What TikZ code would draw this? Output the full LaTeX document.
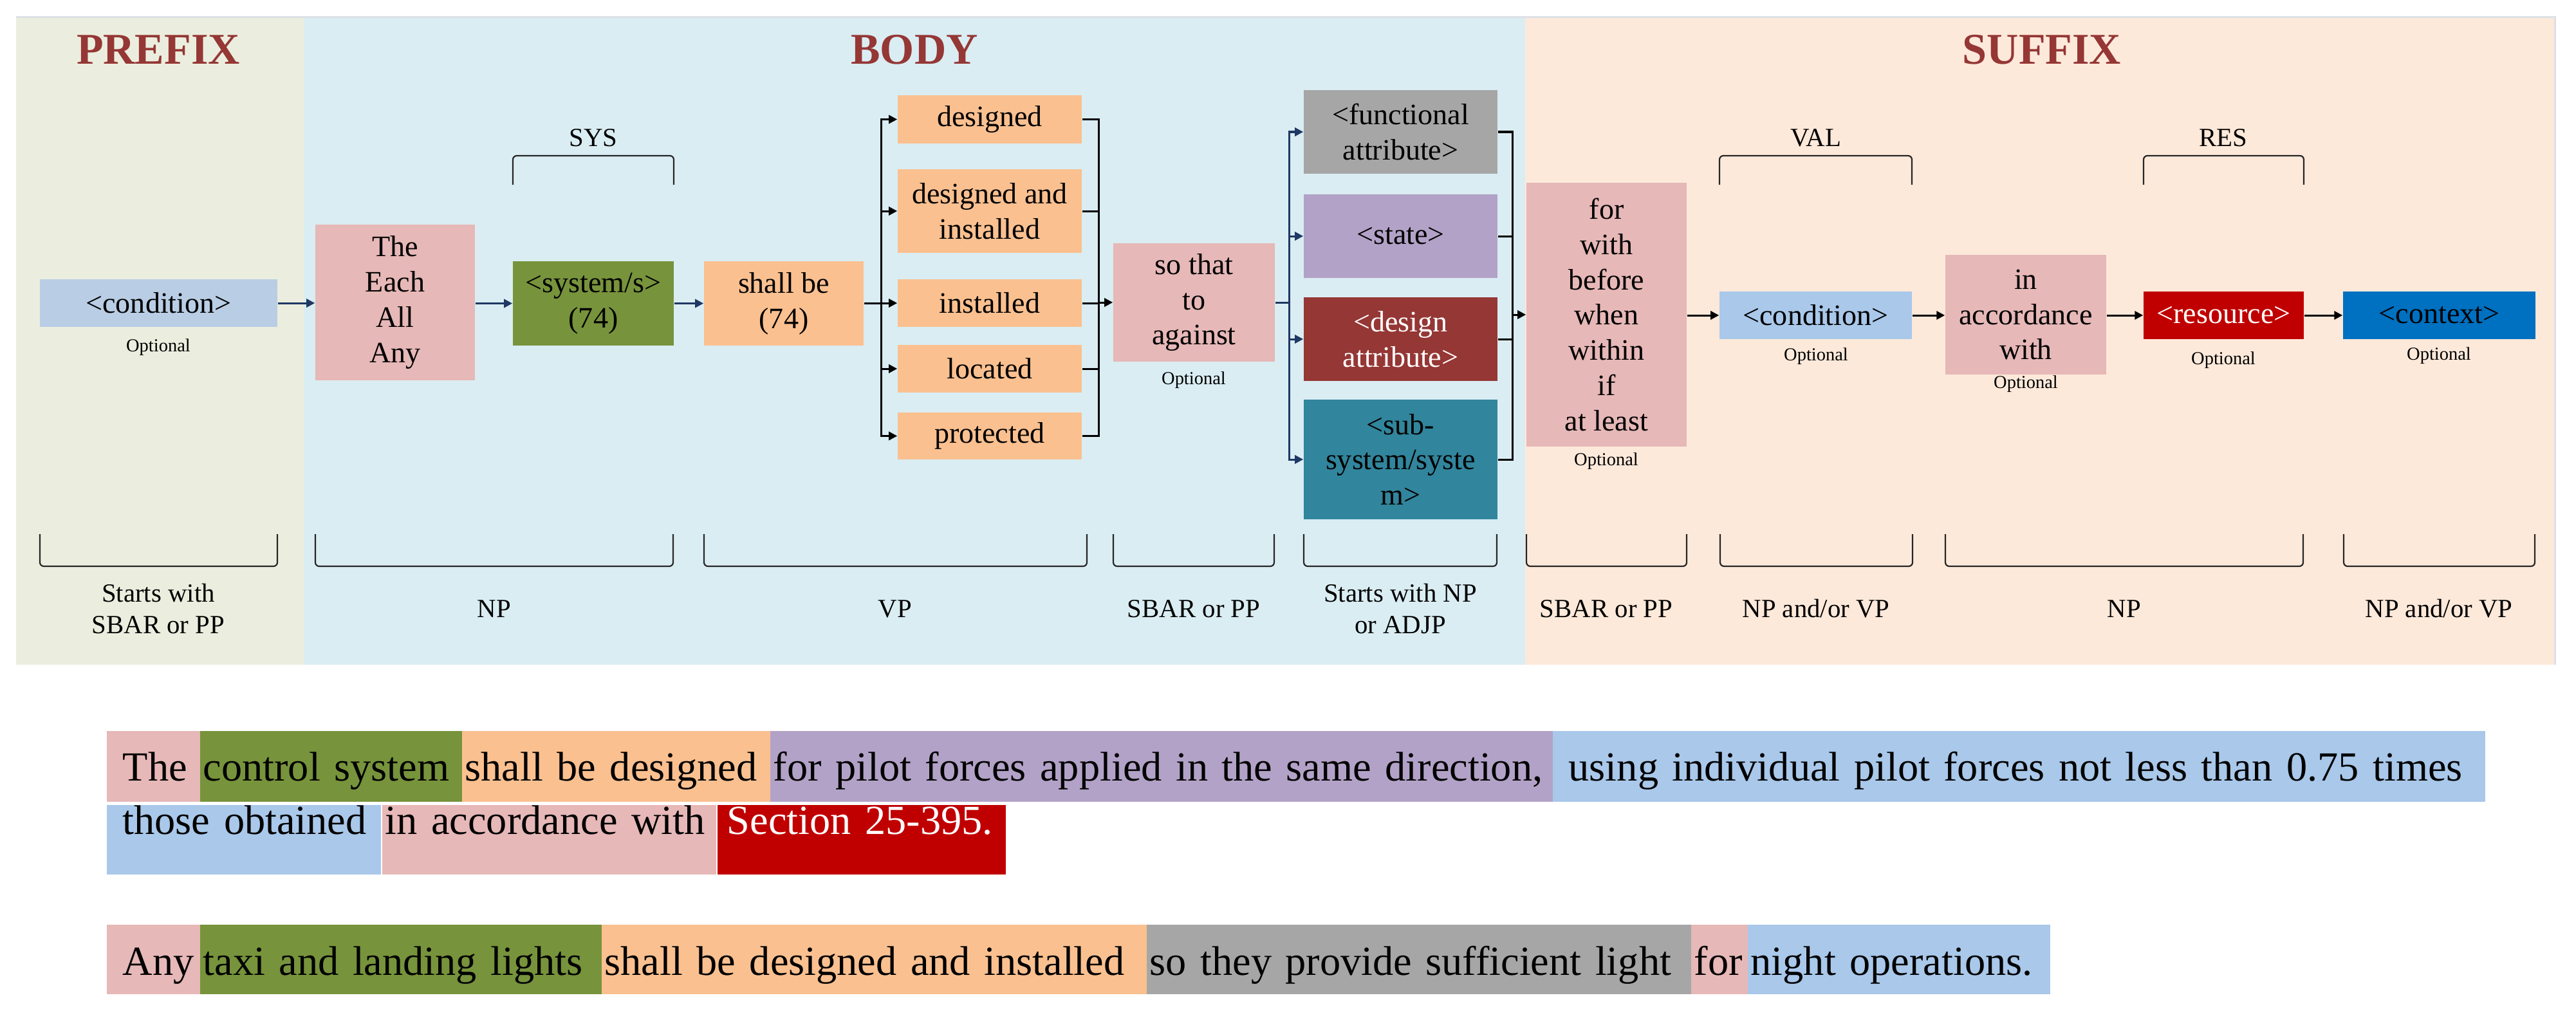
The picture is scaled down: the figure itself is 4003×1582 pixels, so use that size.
\documentclass[tikz,border=0pt]{standalone}
\usepackage{fontspec}
\setmainfont{Liberation Serif}
\usetikzlibrary{arrows.meta}
\definecolor{cpre}{HTML}{EBEEDE}
\definecolor{cbody}{HTML}{DAEDF3}
\definecolor{csuf}{HTML}{FDE9DA}
\definecolor{titlec}{HTML}{953735}
\definecolor{cpink}{HTML}{E6B8B7}
\definecolor{cgreen}{HTML}{77933C}
\definecolor{corange}{HTML}{FAC090}
\definecolor{cgray}{HTML}{A6A6A6}
\definecolor{cpurple}{HTML}{B3A2C7}
\definecolor{cdred}{HTML}{953735}
\definecolor{cteal}{HTML}{31859C}
\definecolor{clblue}{HTML}{B9CDE5}
\definecolor{cblue}{HTML}{A9C8EA}
\definecolor{cred}{HTML}{C00000}
\definecolor{cctx}{HTML}{0070C0}
\definecolor{cnavy}{HTML}{1F3864}
\definecolor{cborder}{HTML}{DDE1E6}
\begin{document}
\begin{tikzpicture}[x=0.01cm, y=-0.01cm,
  box/.style={inner sep=0pt, align=center, font=\fontsize{13.1}{15.6}\selectfont},
  opt/.style={inner sep=0pt, font=\fontsize{8.1}{9.5}\selectfont},
  lbl/.style={inner sep=0pt, align=center, font=\fontsize{11.6}{13.7}\selectfont},
  ttl/.style={inner sep=0pt, text=titlec, font=\fontsize{19.4}{22}\selectfont\bfseries},
  ln/.style={line width=0.03cm, draw=#1},
  ln/.default=black,
  arr/.style={-{Triangle[length=0.13cm,width=0.13cm]}},
  brk/.style={line width=0.022cm, rounded corners=0.06cm, draw=black!85},
  seg/.style={anchor=north west, inner xsep=0.05cm, inner ysep=0pt, align=left,
              font=\fontsize{18.3}{22}\selectfont},
  rowa/.style={seg, text height=0.78cm, text depth=0.32cm},
  rowb/.style={seg, text height=0.46cm, text depth=0.62cm},
  rowc/.style={seg, text height=0.79cm, text depth=0.29cm}]

\useasboundingbox (0,0) rectangle (4003,1582);
\fill[white] (0,0) rectangle (4003,1582);

% panels
\fill[cpre] (25,27) rectangle (472,1033);
\fill[cbody] (472,27) rectangle (2370,1033);
\fill[csuf] (2370,27) rectangle (3970,1033);
\draw[cborder, line width=0.03cm] (25,27) -- (3970,27) -- (3970,1033);

% titles
\node[ttl] (tpre) at (246,77) {PREFIX};
\node[ttl] (tbody) at (1421,77) {BODY};
\node[ttl] (tsuf) at (3173,77) {SUFFIX};

% boxes
\node[box, fill=clblue, minimum width=3.69cm, minimum height=0.74cm] (cond1) at (246.5,471) {<condition>};
\node[box, fill=cpink, minimum width=2.48cm, minimum height=2.42cm] (the) at (614,470) {The\\Each\\All\\Any};
\node[box, fill=cgreen, minimum width=2.50cm, minimum height=1.31cm] (sys) at (922,471.5) {<system/s>\\(74)};
\node[box, fill=corange, minimum width=2.48cm, minimum height=1.31cm] (shall) at (1218,471.5) {shall be\\(74)};
\node[box, fill=corange, minimum width=2.86cm, minimum height=0.75cm] (designed) at (1538,185.5) {designed};
\node[box, fill=corange, minimum width=2.86cm, minimum height=1.30cm] (desinst) at (1538,328) {designed and\\installed};
\node[box, fill=corange, minimum width=2.86cm, minimum height=0.74cm] (installed) at (1538,471) {installed};
\node[box, fill=corange, minimum width=2.86cm, minimum height=0.74cm] (located) at (1538,573) {located};
\node[box, fill=corange, minimum width=2.86cm, minimum height=0.73cm] (protected) at (1538,677.5) {protected};
\node[box, fill=cpink, minimum width=2.51cm, minimum height=1.84cm] (sothat) at (1855.5,470) {so that\\to\\against};
\node[box, fill=cgray, minimum width=3.01cm, minimum height=1.30cm] (func) at (2176.5,205) {<functional\\attribute>};
\node[box, fill=cpurple, minimum width=3.01cm, minimum height=1.30cm] (state) at (2176.5,367) {<state>};
\node[box, fill=cdred, text=white, minimum width=3.01cm, minimum height=1.30cm] (design) at (2176.5,527) {<design\\attribute>};
\node[box, fill=cteal, minimum width=3.01cm, minimum height=1.86cm] (subsys) at (2176.5,714) {<sub-\\system/syste\\m>};
\node[box, fill=cpink, minimum width=2.49cm, minimum height=4.10cm] (forb) at (2496.5,489) {for\\with\\before\\when\\within\\if\\at least};
\node[box, fill=cblue, minimum width=2.99cm, minimum height=0.74cm] (cond2) at (2821.5,490) {<condition>};
\node[box, fill=cpink, minimum width=2.50cm, minimum height=1.86cm] (inacc) at (3148,489) {in\\accordance\\with};
\node[box, fill=cred, text=white, minimum width=2.49cm, minimum height=0.74cm] (res) at (3455.5,490) {<resource>};
\node[box, fill=cctx, minimum width=2.99cm, minimum height=0.74cm] (ctx) at (3790.5,490) {<context>};

% optional labels
\node[opt] (o1) at (246,540) {Optional};
\node[opt] (o2) at (1855,591) {Optional};
\node[opt] (o3) at (2496,717) {Optional};
\node[opt] (o4) at (2822,554) {Optional};
\node[opt] (o5) at (3148,597) {Optional};
\node[opt] (o6) at (3455,560) {Optional};
\node[opt] (o7) at (3790,553) {Optional};

% connectors
\draw[ln=cnavy, arr] (cond1.east) -- (cond1.east -| the.west);
\draw[ln=cnavy, arr] (the.east |- sys.west) -- (sys.west);
\draw[ln=cnavy, arr] (sys.east) -- (shall.west);

\coordinate (bx1) at (1369,0);
\coordinate (bx2) at (1707,0);
\coordinate (bx3) at (2003,0);
\coordinate (bx4) at (2350,0);

\draw[ln] (shall.east) -- (shall.east -| bx1);
\draw[ln, line cap=rect] (designed.west -| bx1) -- (protected.west -| bx1);
\foreach \n in {designed,desinst,installed,located,protected}
  \draw[ln, arr] (\n.west -| bx1) -- (\n.west);
\foreach \n in {designed,desinst,installed,located,protected}
  \draw[ln] (\n.east) -- (\n.east -| bx2);
\draw[ln, line cap=rect] (designed.east -| bx2) -- (protected.east -| bx2);
\draw[ln, arr] (sothat.west -| bx2) -- (sothat.west);

\draw[ln=cnavy] (sothat.east) -- (sothat.east -| bx3);
\draw[ln=cnavy, line cap=rect] (func.west -| bx3) -- (subsys.west -| bx3);
\foreach \n in {func,state,design,subsys}
  \draw[ln=cnavy, arr] (\n.west -| bx3) -- (\n.west);
\foreach \n in {func,state,design,subsys}
  \draw[ln] (\n.east) -- (\n.east -| bx4);
\draw[ln, line cap=rect] (func.east -| bx4) -- (subsys.east -| bx4);
\draw[ln, arr] (forb.west -| bx4) -- (forb.west);

\draw[ln, arr] (forb.east |- cond2.west) -- (cond2.west);
\draw[ln, arr] (cond2.east) -- (cond2.east -| inacc.west);
\draw[ln, arr] (inacc.east |- res.west) -- (res.west);
\draw[ln, arr] (res.east) -- (ctx.west);

% top brackets
\draw[brk] (797,287) -- (797,242) -- (1047,242) -- (1047,287);
\node[lbl] (lsys) at (922,214) {SYS};
\draw[brk] (2672,287) -- (2672,242) -- (2971,242) -- (2971,287);
\node[lbl] (lval) at (2822,214) {VAL};
\draw[brk] (3331,287) -- (3331,242) -- (3580,242) -- (3580,287);
\node[lbl] (lres) at (3455,214) {RES};

% bottom brackets
\foreach \a/\b in {62/431, 490/1046, 1094/1689, 1730/1980, 2026/2326, 2372/2621, 2673/2972, 3023/3579, 3642/3939}
  \draw[brk] (\a,830) -- (\a,880) -- (\b,880) -- (\b,830);
\node[lbl] (b1) at (246,946) {Starts with\\SBAR or PP};
\node[lbl] (b2) at (768,946) {NP};
\node[lbl] (b3) at (1391,946) {VP};
\node[lbl] (b4) at (1855,946) {SBAR or PP};
\node[lbl] (b5) at (2176,946) {Starts with NP\\or ADJP};
\node[lbl] (b6) at (2496,946) {SBAR or PP};
\node[lbl] (b7) at (2822,946) {NP and/or VP};
\node[lbl] (b8) at (3301,946) {NP};
\node[lbl] (b9) at (3790,946) {NP and/or VP};

% example sentence 1
\node[rowa, fill=cpink, text width=1.35cm] (s1a) at (165,1135) {\mbox{\hspace*{0.2cm}The}};
\node[rowa, fill=cgreen, text width=3.97cm] (s1b) at (310,1135) {\mbox{control system}};
\node[rowa, fill=corange, text width=4.69cm] (s1c) at (717,1135) {\mbox{shall be designed}};
\node[rowa, fill=cpurple, text width=12.06cm] (s1d) at (1196,1135) {\mbox{for pilot forces applied in the same direction,}};
\node[rowa, fill=cblue, text width=14.38cm] (s1e) at (2412,1135) {\mbox{\hspace*{0.2cm}using individual pilot forces not less than 0.75 times}};
\node[rowb, fill=cblue, text width=4.16cm] (s2a) at (165,1250) {\mbox{\hspace*{0.2cm}those obtained}};
\node[rowb, fill=cpink, text width=5.09cm] (s2b) at (593,1250) {\mbox{in accordance with}};
\node[rowb, fill=cred, text=white, text width=4.38cm] (s2c) at (1114,1250) {\mbox{\hspace*{0.1cm}Section 25-395.}};

% example sentence 2
\node[rowc, fill=cpink, text width=1.35cm] (s3a) at (165,1436) {\mbox{\hspace*{0.2cm}Any}};
\node[rowc, fill=cgreen, text width=6.14cm] (s3b) at (310,1436) {\mbox{taxi and landing lights}};
\node[rowc, fill=corange, text width=8.37cm] (s3c) at (934,1436) {\mbox{shall be designed and installed}};
\node[rowc, fill=cgray, text width=8.36cm] (s3d) at (1781,1436) {\mbox{so they provide sufficient light}};
\node[rowc, fill=cpink, text width=0.78cm] (s3e) at (2627,1436) {\mbox{for}};
\node[rowc, fill=cblue, text width=4.60cm] (s3f) at (2715,1436) {\mbox{night operations.}};
\end{tikzpicture}
\end{document}
